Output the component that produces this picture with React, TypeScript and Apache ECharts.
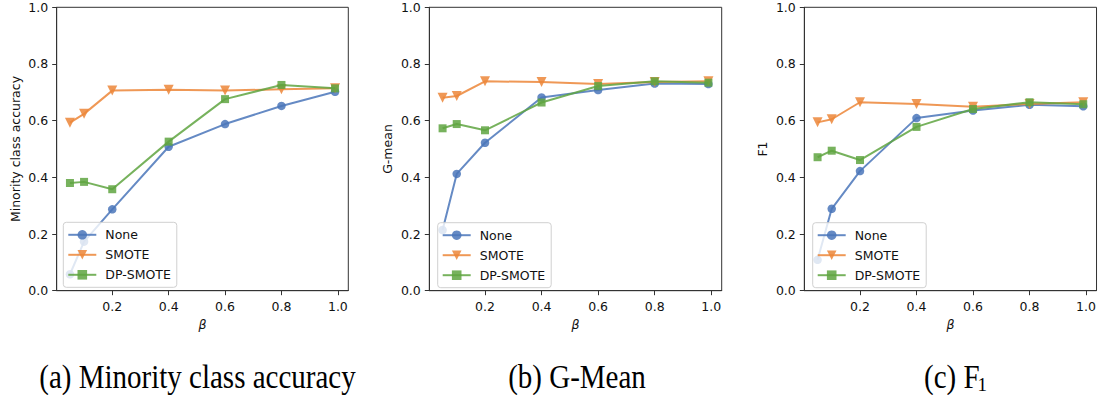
import React, { useEffect, useRef } from "react";
import * as echarts from "echarts";

const BETA = [0.05, 0.1, 0.2, 0.4, 0.6, 0.8, 0.99];
const X_TICKS = [0.2, 0.4, 0.6, 0.8, 1.0];
const SERIES_NAMES = ["None", "SMOTE", "DP-SMOTE"];

const ACC_NONE = [0.058, 0.173, 0.287, 0.508, 0.588, 0.652, 0.702];
const ACC_SMOTE = [0.593, 0.624, 0.706, 0.709, 0.706, 0.711, 0.714];
const ACC_DP = [0.38, 0.384, 0.358, 0.526, 0.676, 0.726, 0.714];

const GM_NONE = [0.214, 0.412, 0.522, 0.682, 0.708, 0.731, 0.729];
const GM_SMOTE = [0.681, 0.687, 0.739, 0.736, 0.729, 0.736, 0.739];
const GM_DP = [0.573, 0.588, 0.566, 0.664, 0.722, 0.739, 0.734];

const F1_NONE = [0.109, 0.289, 0.422, 0.609, 0.636, 0.656, 0.651];
const F1_SMOTE = [0.594, 0.605, 0.665, 0.659, 0.649, 0.659, 0.665];
const F1_DP = [0.471, 0.494, 0.461, 0.578, 0.641, 0.665, 0.658];

const Y_NAMES = ["Minority class accuracy", "G-mean", "F1"];
const PANEL_DATA = [
  [ACC_NONE, ACC_SMOTE, ACC_DP],
  [GM_NONE, GM_SMOTE, GM_DP],
  [F1_NONE, F1_SMOTE, F1_DP],
];

const COLORS = ["#4a76ba", "#ec8638", "#5fa541"];
const SYMBOLS = ["circle", "path://M0,0L10,0L5,10Z", "rect"];
const SYMBOL_SIZES = [8.5, 10, 8];

const GRIDS = [
  { left: 56.7, width: 291.6 },
  { left: 429.3, width: 292.4 },
  { left: 804.3, width: 293 },
];
const LEGEND_POS = [
  { left: 63.3, top: 222.3 },
  { left: 437.7, top: 222.7 },
  { left: 812.7, top: 222.7 },
];

const TICK_FONT = "DejaVu Sans";
const AXIS_COLOR = "#333";

export default function App() {
  const ref = useRef<HTMLDivElement>(null);

  useEffect(() => {
    if (!ref.current) return;
    const chart = echarts.init(ref.current, null, { renderer: "svg" });

    const grid = GRIDS.map((g) => ({
      left: g.left,
      width: g.width,
      top: 7.3,
      height: 283.4,
      show: true,
      borderColor: AXIS_COLOR,
      borderWidth: 1,
      backgroundColor: "transparent",
      containLabel: false,
    }));

    const xAxis = GRIDS.map((_, i) => ({
      type: "value",
      gridIndex: i,
      min: 0.003,
      max: 1.037,
      name: "β",
      nameLocation: "middle",
      nameGap: 24,
      nameTextStyle: {
        fontFamily: TICK_FONT,
        fontStyle: "italic",
        fontSize: 12.5,
        color: "#111",
      },
      splitLine: { show: false },
      axisLine: { show: true, lineStyle: { color: AXIS_COLOR, width: 1 } },
      axisTick: {
        show: true,
        inside: false,
        length: 4.5,
        customValues: X_TICKS,
        lineStyle: { color: AXIS_COLOR, width: 1 },
      },
      axisLabel: {
        customValues: X_TICKS,
        margin: 9,
        fontFamily: TICK_FONT,
        fontSize: 12.5,
        color: "#111",
        formatter: (v: number) => v.toFixed(1),
      },
    }));

    const yAxis = GRIDS.map((_, i) => ({
      type: "value",
      gridIndex: i,
      min: 0,
      max: 1,
      interval: 0.2,
      name: Y_NAMES[i],
      nameLocation: "middle",
      nameGap: 35,
      nameTextStyle: {
        fontFamily: TICK_FONT,
        fontSize: 12.5,
        color: "#111",
      },
      splitLine: { show: false },
      axisLine: { show: true, lineStyle: { color: AXIS_COLOR, width: 1 } },
      axisTick: {
        show: true,
        inside: false,
        length: 4.5,
        lineStyle: { color: AXIS_COLOR, width: 1 },
      },
      axisLabel: {
        margin: 8.5,
        fontFamily: TICK_FONT,
        fontSize: 12.5,
        color: "#111",
        formatter: (v: number) => v.toFixed(1),
      },
    }));

    const series: any[] = [];
    PANEL_DATA.forEach((panel, p) => {
      panel.forEach((vals, s) => {
        series.push({
          type: "line",
          name: SERIES_NAMES[s],
          xAxisIndex: p,
          yAxisIndex: p,
          data: BETA.map((b, k) => [b, vals[k]]),
          symbol: SYMBOLS[s],
          symbolSize: SYMBOL_SIZES[s],
          showSymbol: true,
          lineStyle: { color: COLORS[s], width: 2, opacity: 0.85 },
          itemStyle: { color: COLORS[s], opacity: 0.85, borderWidth: 0 },
          emphasis: { disabled: true },
          z: 2 + s,
        });
      });
    });

    const legend = LEGEND_POS.map((pos) => ({
      left: pos.left,
      top: pos.top,
      orient: "vertical",
      data: SERIES_NAMES,
      itemWidth: 28,
      itemHeight: 12,
      itemGap: 7,
      padding: [6, 6, 6, 4],
      backgroundColor: "rgba(255,255,255,0.8)",
      borderColor: "#d0d0d0",
      borderWidth: 1,
      borderRadius: 3,
      selectedMode: false,
      textStyle: {
        fontFamily: TICK_FONT,
        fontSize: 12.5,
        color: "#111",
        padding: [0, 0, 0, 4],
      },
      z: 10,
    }));

    const capStyle = {
      fontFamily: "Liberation Serif",
      fontSize: 29,
      fill: "#000",
    };

    const graphic = [
      {
        type: "text",
        x: 197.5,
        y: 377,
        scaleY: 1.16,
        style: { ...capStyle, text: "(a) Minority class accuracy", align: "center", verticalAlign: "middle" },
      },
      {
        type: "text",
        x: 577,
        y: 377,
        scaleY: 1.16,
        style: { ...capStyle, text: "(b) G-Mean", align: "center", verticalAlign: "middle" },
      },
      {
        type: "text",
        x: 924,
        y: 377,
        scaleY: 1.16,
        style: { ...capStyle, text: "(c) F", align: "left", verticalAlign: "middle" },
      },
      {
        type: "text",
        x: 977.5,
        y: 384,
        style: { ...capStyle, fontSize: 19, text: "1", align: "left", verticalAlign: "middle" },
      },
    ];

    chart.setOption({
      animation: false,
      backgroundColor: "#fff",
      grid,
      xAxis,
      yAxis,
      series,
      legend,
      graphic,
    });

    return () => chart.dispose();
  }, []);

  return (
    <div
      ref={ref}
      style={{ position: "absolute", left: 0, top: 0, width: 1099, height: 395 }}
    />
  );
}
